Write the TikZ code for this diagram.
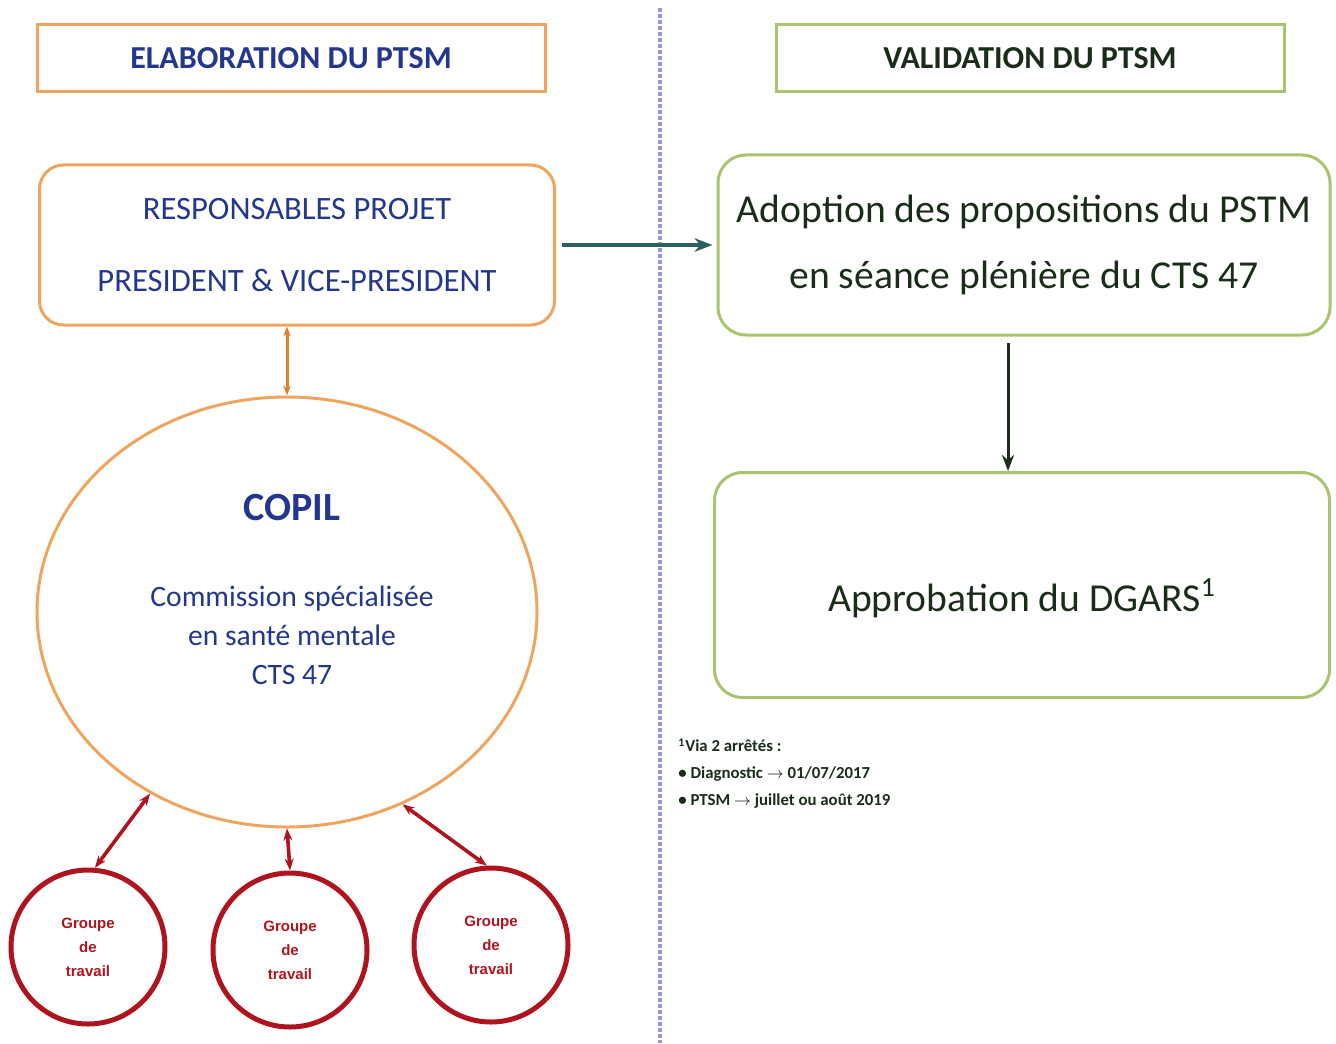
\documentclass[tikz,border=0pt]{standalone}
\usepackage{fontspec}
\setmainfont{Carlito}
\newfontfamily\arialfont{Liberation Sans}
\usetikzlibrary{arrows.meta,shapes.geometric,positioning}
\definecolor{elabline}{RGB}{240,165,95}
\definecolor{validline}{RGB}{170,195,110}
\definecolor{navytext}{RGB}{35,55,140}
\definecolor{darkgreentext}{RGB}{25,45,25}
\definecolor{groupred}{RGB}{175,20,30}
\definecolor{sepline}{RGB}{150,150,220}
\definecolor{tealarrow}{RGB}{45,95,95}
\definecolor{copilarrow}{RGB}{225,130,40}

\begin{document}
\begin{tikzpicture}[x=0.5pt,y=-0.5pt]
			\tikzstyle{every node}=[inner sep=0pt]
			\tikzstyle{titlebox}=[draw,line width=1.5pt,minimum width=254pt,minimum height=33.5pt,
			font=\fontsize{16}{18}\selectfont\bfseries]
			\tikzstyle{stepbox}=[draw=elabline,line width=1.5pt,rounded corners=12pt,align=center]
			\tikzstyle{validbox}=[draw=validline,line width=1.5pt,rounded corners=14pt,align=center,
			text=darkgreentext]
			\tikzstyle{groupe}=[circle,draw=groupred,line width=2.5pt,minimum size=77pt,align=center,
			text=groupred,font=\arialfont\fontsize{7.5}{12}\selectfont\bfseries]
			\tikzstyle{redlink}=[groupred,line width=1.8pt,{Stealth[length=6pt]}-{Stealth[length=6pt]}]
			\useasboundingbox (0,0) rectangle (1336,1043);
			\draw[sepline,line width=2pt,dash pattern=on 2pt off 1pt] (660,8) -- (660,1043);
			\node[titlebox,draw=elabline,text=navytext] (elab) at (291,58) {ELABORATION DU PTSM};
			\node[titlebox,draw=validline,text=darkgreentext] (valid) at (1030,58) {VALIDATION DU PTSM};
			\node[stepbox,minimum width=257.5pt,minimum height=80pt,text=navytext,
			font=\fontsize{16.3}{36}\selectfont] (resp) at (297,245)
			{RESPONSABLES PROJET\\PRESIDENT \& VICE-PRESIDENT};
			\node[validbox,minimum width=306pt,minimum height=90pt,
			font=\fontsize{19.8}{33}\selectfont] (adopt) at (1024,245)
			{Adoption des propositions du PSTM\\en séance plénière du CTS 47};
			\node[validbox,minimum width=307.5pt,minimum height=112.5pt] (approb) at (1022,585) {};
			\node[text=darkgreentext,font=\fontsize{19.8}{22}\selectfont] (approbtext) at (1022,598)
			{Approbation du DGARS\textsuperscript{1}};
			\node[ellipse,draw=elabline,line width=1.5pt,minimum width=250pt,minimum height=215pt] (copil) at (287,612) {};
			\node[text=navytext,font=\fontsize{20}{22}\selectfont\bfseries] (copiltitle) at (292,508) {COPIL};
			\node[text=navytext,align=center,font=\fontsize{14.8}{19.5}\selectfont,below=32pt of copiltitle] (copiltext)
			{Commission spécialisée\\en santé mentale\\CTS 47};
			\node[groupe] (g1) at (88,947) {Groupe\\de\\travail};
			\node[groupe] (g2) at (290,950) {Groupe\\de\\travail};
			\node[groupe] (g3) at (491,945) {Groupe\\de\\travail};
			\node[anchor=north west,align=left,text=darkgreentext,
			font=\fontsize{8.4}{13.5}\selectfont\bfseries] (note) at (678,738)
			{\textsuperscript{1}Via 2 arrêtés :\\• Diagnostic \ensuremath{\rightarrow} 01/07/2017\\• PTSM \ensuremath{\rightarrow} juillet ou août 2019};
			\draw[tealarrow,line width=2pt,-{Stealth[length=9pt]}] ([xshift=3pt]resp.east) -- ([xshift=-2pt]adopt.west);
			\draw[darkgreentext,line width=1.5pt,-{Stealth[length=8pt]}] ([xshift=-8pt,yshift=-3pt]adopt.south) -- ([xshift=-7pt]approb.north);
			\draw[copilarrow,line width=1.5pt,{Stealth[length=5pt]}-{Stealth[length=5pt]}] (copil.north |- resp.south) -- (copil.north);
			\draw[redlink] (copil.233) -- (g1.85);
			\draw[redlink] (copil.south) -- (g2.north);
			\draw[redlink] (copil.-59) -- (g3.93);
\end{tikzpicture}
\end{document}
